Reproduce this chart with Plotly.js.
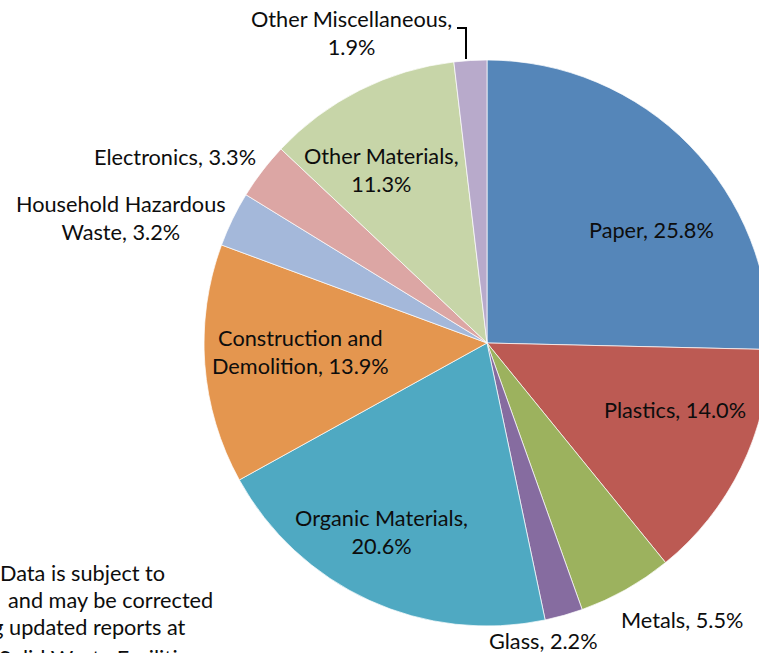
<!DOCTYPE html>
<html>
<head>
<meta charset="utf-8">
<script src="https://cdn.plot.ly/plotly-3.0.1.min.js"></script>
<style>
html, body { margin:0; padding:0; overflow:hidden; background:#fff; width:759px; height:653px; }
#chart { width:790px; height:653px; }
</style>
</head>
<body>
<div id="chart"></div>
<script>
// ---- data ----
const categories = ["Paper", "Plastics", "Metals", "Glass", "Organic Materials",
  "Construction and Demolition", "Household Hazardous Waste", "Electronics",
  "Other Materials", "Other Miscellaneous"];
const shares = [25.8, 14.0, 5.5, 2.2, 20.6, 13.9, 3.2, 3.3, 11.3, 1.9];
const sliceColors = ["#5586B9", "#BC5A53", "#9CB25E", "#866CA0", "#4FA9C2",
  "#E4964F", "#A4B8DA", "#DCA6A4", "#C7D5A8", "#B8AACB"];
// label layout (line-break rule and placement) per slice
const breakAfterLabel = [false, false, false, false, true, false, false, false, true, true];
const labelPos = [ // [x px, y px] of label centre
  [651, 230], [675, 410], [682, 620], [543, 641], [381, 532],
  [300, 352], [121, 218], [175, 157], [381, 170], [351, 33]];
const noteLines = ["Data is subject to", "and may be corrected",
  "following updated reports at", "Solid Waste Facilities"];

const W = 790, H = 653;
const FONT = "Lato, 'Open Sans', sans-serif";
const FS = 21.7;

function labelText(i) {
  const v = shares[i].toFixed(1) + "%";
  if (i === 5) return "Construction and<br>Demolition, " + v;
  if (i === 6) return "Household Hazardous<br>Waste, " + v;
  return categories[i] + "," + (breakAfterLabel[i] ? "<br>" : " ") + v;
}

const annotations = categories.map((c, i) => ({
  text: labelText(i),
  x: labelPos[i][0] / W, y: 1 - labelPos[i][1] / H,
  xref: "paper", yref: "paper", xanchor: "center", yanchor: "middle",
  showarrow: false, align: "center",
  font: {family: FONT, size: FS, color: "#0d0d0d"}
}));

// footnote (cropped at the left and bottom edges, as in the source)
const noteRight = [167, 215, 188, 200];
const noteY = [573, 600, 627, 658];
noteLines.forEach((t, k) => {
  annotations.push({
    text: t, x: noteRight[k] / W, y: 1 - noteY[k] / H,
    xref: "paper", yref: "paper", xanchor: "right", yanchor: "middle",
    showarrow: false, font: {family: FONT, size: FS, color: "#0d0d0d"}
  });
});

const data = [{
  type: "pie",
  labels: categories,
  values: shares,
  sort: false,
  direction: "clockwise",
  rotation: 0,
  textinfo: "none",
  hoverinfo: "label+percent",
  marker: {colors: sliceColors, line: {color: "rgba(255,255,255,0.7)", width: 1}},
  domain: {x: [204 / W, 770 / W], y: [1 - 626 / H, 1 - 60 / H]}
}];

const layout = {
  width: W, height: H,
  margin: {l: 0, r: 0, t: 0, b: 0},
  paper_bgcolor: "#ffffff",
  showlegend: false,
  annotations: annotations,
  shapes: [{
    type: "path", xref: "paper", yref: "paper",
    path: "M " + (457 / W) + " " + (1 - 28 / H) + " L " + (466 / W) + " " + (1 - 28 / H) +
          " L " + (466 / W) + " " + (1 - 59 / H),
    line: {color: "#000000", width: 2}
  }]
};

Plotly.newPlot("chart", data, layout, {displayModeBar: false, staticPlot: true});
</script>
</body>
</html>
